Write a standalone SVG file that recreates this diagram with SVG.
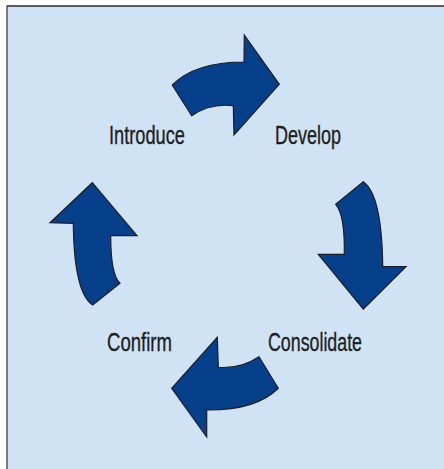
<svg xmlns="http://www.w3.org/2000/svg" width="444" height="469" viewBox="0 0 444 469">
<style>
.arrow{fill:#063f8a;stroke:#1c1c28;stroke-width:1.2;stroke-linejoin:miter}
.lbl{font-family:"Liberation Sans","DejaVu Sans",sans-serif;font-size:25.5px;fill:#1e1e1e;stroke:#1e1e1e;stroke-width:0.35}
</style>
<rect x="0" y="0" width="444" height="469" fill="#ffffff"/>
<rect x="7" y="6" width="437" height="463" fill="#cfe3f4"/>
<line x1="6.5" y1="6" x2="444" y2="6" stroke="#2a2a2a" stroke-width="1.5"/>
<line x1="7" y1="6" x2="7" y2="469" stroke="#555555" stroke-width="1.5"/>
<g id="connectors">
<path id="arrow-top" class="arrow" d="M172.3,85 Q195,62 244,62 L244.3,35 L279.3,84.3 L234,135 L233.3,105.7 Q210,103 191.7,115.7 Z"/>
<path id="arrow-right" class="arrow" d="M335.7,204.3 L363.3,181.7 Q382,195 382.7,266.7 L406,266.7 L363.3,309 L318.3,254.3 L344.3,254.3 Q345,215 335.7,204.3 Z"/>
<path id="arrow-bottom" class="arrow" d="M259,356.7 L278.3,388.3 Q256,410.5 206.7,410 L206.7,437 L171.7,388.3 L217.3,337.3 L218.3,367.3 Q241,369 259,356.7 Z"/>
<path id="arrow-left" class="arrow" d="M92.3,182.7 L137,235.7 L110.7,235.7 Q110.7,275 120,283.3 L92.7,305 Q74,293 73.3,223.3 L50,222.7 Z"/>
</g>
<g id="introduce"><text class="lbl" x="109" y="143.5" textLength="76" lengthAdjust="spacingAndGlyphs">Introduce</text></g>
<g id="develop"><text class="lbl" x="275" y="143.5" textLength="66" lengthAdjust="spacingAndGlyphs">Develop</text></g>
<g id="confirm"><text class="lbl" x="107" y="351" textLength="65" lengthAdjust="spacingAndGlyphs">Confirm</text></g>
<g id="consolidate"><text class="lbl" x="268" y="351" textLength="94" lengthAdjust="spacingAndGlyphs">Consolidate</text></g>
</svg>
